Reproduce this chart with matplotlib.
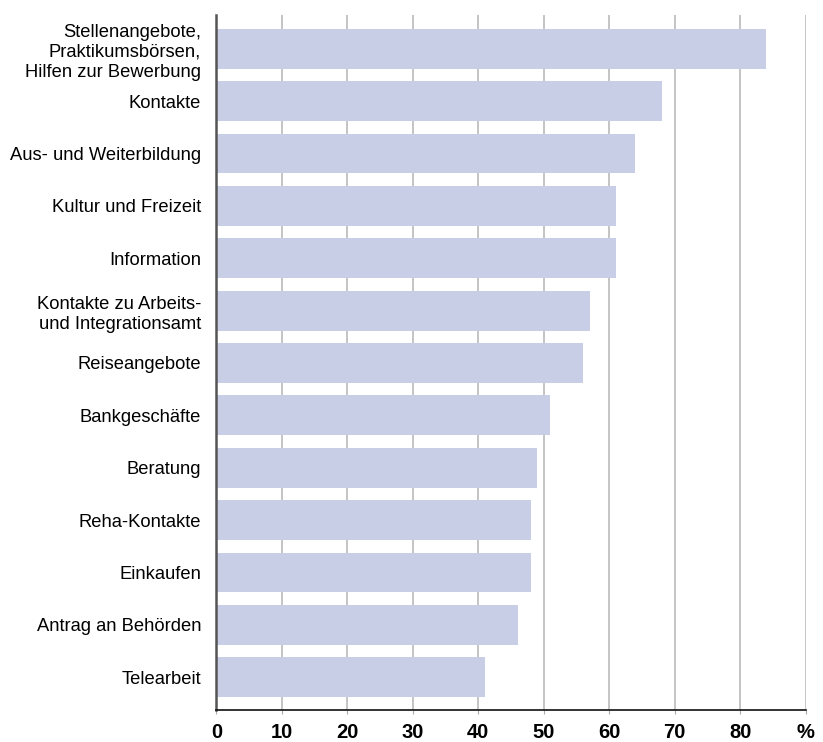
import matplotlib.pyplot as plt
import numpy as np

plt.rcParams['font.family'] = ['Liberation Sans', 'DejaVu Sans']

# Kategorien und Werte (in %)
categories = [
    'Stellenangebote,\nPraktikumsbörsen,\nHilfen zur Bewerbung',
    'Kontakte',
    'Aus- und Weiterbildung',
    'Kultur und Freizeit',
    'Information',
    'Kontakte zu Arbeits-\nund Integrationsamt',
    'Reiseangebote',
    'Bankgeschäfte',
    'Beratung',
    'Reha-Kontakte',
    'Einkaufen',
    'Antrag an Behörden',
    'Telearbeit',
]
values = [84, 68, 64, 61, 61, 57, 56, 51, 49, 48, 48, 46, 41]
xticks = [0, 10, 20, 30, 40, 50, 60, 70, 80, 90]
xticklabels = ['0', '10', '20', '30', '40', '50', '60', '70', '80', '%']

fig = plt.figure(figsize=(8.23, 7.42), dpi=100)
ax = fig.add_axes([0.263, 0.043, 0.716, 0.937])

y = np.arange(len(categories))
ax.barh(y, values, height=0.76, color='#c9cee7', zorder=2)

ax.set_xlim(0, 90)
ax.set_ylim(len(categories) - 0.37, -0.65)

ax.set_xticks(xticks)
ax.set_xticklabels(xticklabels, fontsize=14.5, fontweight='bold')
ax.set_yticks(y)
ax.set_yticklabels(categories, fontsize=13.2, linespacing=1.25)

ax.grid(axis='x', color='#c4c4c4', linewidth=1.4, zorder=0)
ax.tick_params(axis='y', length=0, pad=11)
ax.tick_params(axis='x', length=3, color='#aaaaaa', pad=6)

for side in ['top', 'right']:
    ax.spines[side].set_visible(False)
ax.spines['left'].set_color('#555555')
ax.spines['left'].set_linewidth(1.8)
ax.spines['bottom'].set_color('#111111')
ax.spines['bottom'].set_linewidth(1.2)

fig.savefig('out.png', dpi=100)
